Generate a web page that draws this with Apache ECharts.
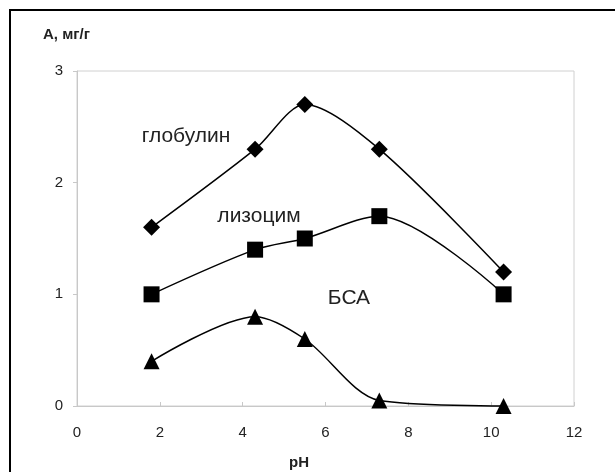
<!DOCTYPE html>
<html>
<head>
<meta charset="utf-8">
<script src="https://cdn.jsdelivr.net/npm/echarts@6/dist/echarts.min.js"></script>
<style>
  html, body { margin: 0; padding: 0; background: #fff; }
  #chart { width: 615px; height: 472px; }
</style>
</head>
<body>
<div id="chart"></div>
<script>
// pH values of the measured points
var phValues = [1.8, 4.3, 5.5, 7.3, 10.3];
// adsorption A, mg/g
var globulin = [1.6, 2.3, 2.7, 2.3, 1.2];
var lysozyme = [1.0, 1.4, 1.5, 1.7, 1.0];
var bsa = [0.4, 0.8, 0.6, 0.05, 0.0];
var seriesNames = ['глобулин', 'лизоцим', 'БСА'];
var xTicks = [0, 2, 4, 6, 8, 10, 12];
var yTicks = [0, 1, 2, 3];

function pairs(vals) {
  return phValues.map(function (x, i) { return [x, vals[i]]; });
}

var chart = echarts.init(document.getElementById('chart'));
var font = 'Liberation Sans, Arial, sans-serif';

function curve(name, vals, symbol, size) {
  return {
    name: name,
    type: 'line',
    data: pairs(vals),
    smooth: 0.3,
    symbol: symbol,
    symbolSize: size,
    showAllSymbol: true,
    clip: false,
    lineStyle: { color: '#000', width: 1.5 },
    itemStyle: { color: '#000' }
  };
}

chart.setOption({
  backgroundColor: '#fff',
  animation: false,
  grid: { left: 77, right: 41, top: 71, bottom: 66, show: true, borderColor: '#d0d0d0', borderWidth: 1 },
  xAxis: {
    type: 'value',
    min: xTicks[0],
    max: xTicks[xTicks.length - 1],
    interval: 2,
    axisLine: { lineStyle: { color: '#c8c8c8', width: 1 } },
    axisTick: { show: true, inside: true, length: 4, lineStyle: { color: '#c8c8c8' } },
    splitLine: { show: false },
    axisLabel: { color: '#222', fontSize: 15, fontFamily: font, margin: 19 }
  },
  yAxis: {
    type: 'value',
    min: yTicks[0],
    max: yTicks[yTicks.length - 1],
    interval: 1,
    axisLine: { show: true, lineStyle: { color: '#c8c8c8', width: 1 } },
    axisTick: { show: true, length: 4, lineStyle: { color: '#c8c8c8' } },
    splitLine: { show: false },
    axisLabel: { color: '#222', fontSize: 15, fontFamily: font, margin: 14 }
  },
  series: [
    curve(seriesNames[0], globulin, 'diamond', 17),
    curve(seriesNames[1], lysozyme, 'rect', 16),
    curve(seriesNames[2], bsa, 'triangle', 16)
  ],
  graphic: [
    { type: 'rect', shape: { x: 10, y: 10, width: 700, height: 600 }, style: { fill: 'none', stroke: '#000', lineWidth: 2 }, silent: true },
    { type: 'text', left: 43, top: 27, style: { text: 'А, мг/г', font: 'bold 15px ' + font, fill: '#222' } },
    { type: 'text', left: 300 - 11, top: 455, style: { text: 'pH', font: 'bold 15px ' + font, fill: '#222' } },
    { type: 'text', x: 186, y: 136, style: { text: seriesNames[0], font: '21px ' + font, fill: '#222', align: 'center', verticalAlign: 'middle' } },
    { type: 'text', x: 259, y: 216, style: { text: seriesNames[1], font: '21px ' + font, fill: '#222', align: 'center', verticalAlign: 'middle' } },
    { type: 'text', x: 349, y: 298, style: { text: seriesNames[2], font: '21px ' + font, fill: '#222', align: 'center', verticalAlign: 'middle' } }
  ]
});
</script>
</body>
</html>
